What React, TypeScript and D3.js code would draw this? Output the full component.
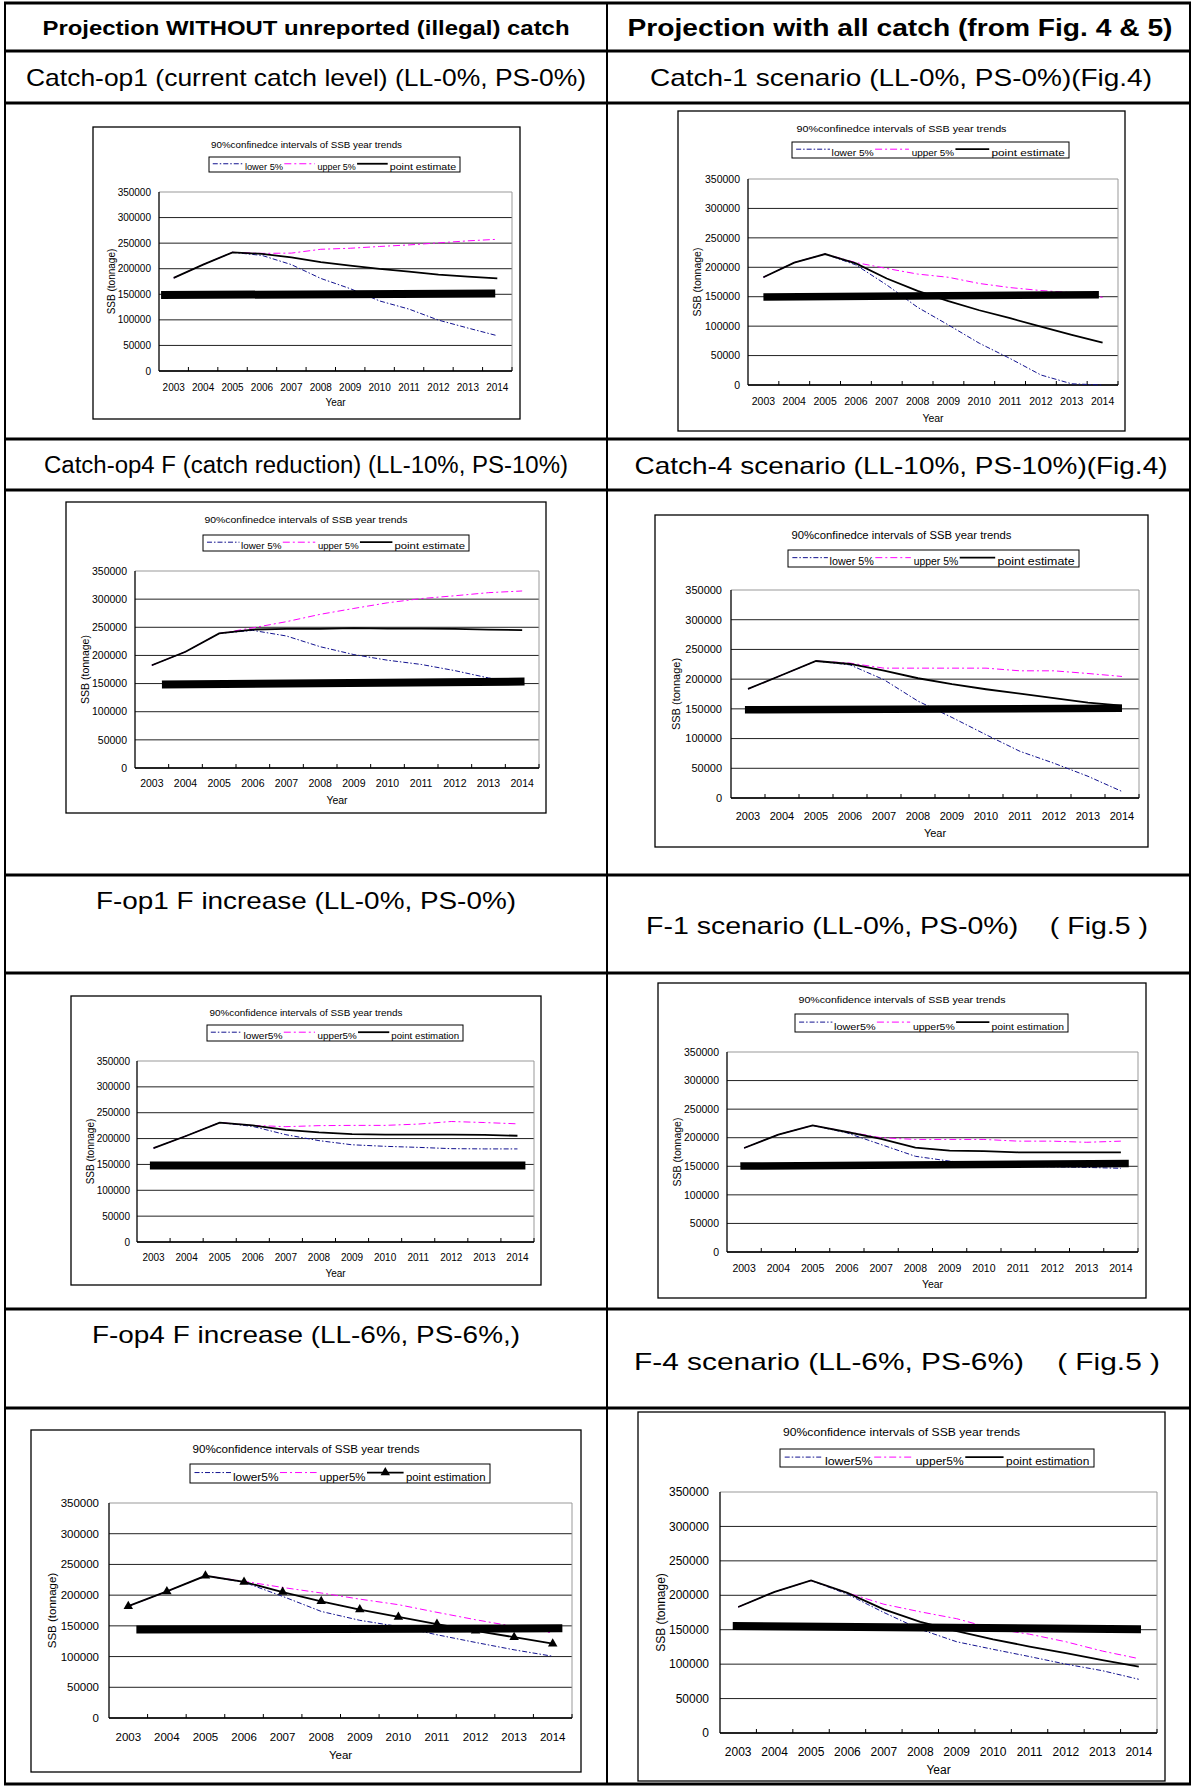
import React from "react";
import * as d3 from "d3";

const years = [2003, 2004, 2005, 2006, 2007, 2008, 2009, 2010, 2011, 2012, 2013, 2014];
const yTicks = [0, 50000, 100000, 150000, 200000, 250000, 300000, 350000];

const headerLeft = "Projection WITHOUT unreported (illegal) catch";
const headerRight = "Projection with all catch (from Fig. 4 & 5)";
const rowTitlesLeft = [
  "Catch-op1 (current catch level) (LL-0%, PS-0%)",
  "Catch-op4 F (catch reduction) (LL-10%, PS-10%)",
  "F-op1 F increase (LL-0%, PS-0%)",
  "F-op4 F increase (LL-6%, PS-6%,)",
];
const rowTitlesRight = [
  "Catch-1 scenario (LL-0%, PS-0%)(Fig.4)",
  "Catch-4 scenario (LL-10%, PS-10%)(Fig.4)",
  "F-1 scenario (LL-0%, PS-0%)    ( Fig.5 )",
  "F-4 scenario (LL-6%, PS-6%)    ( Fig.5 )",
];

const titleA = "90%confinedce intervals of SSB year trends";
const titleB = "90%confidence intervals of SSB year trends";
const legendA = ["lower 5%", "upper 5%", "point estimate"];
const legendB = ["lower5%", "upper5%", "point estimation"];

// Catch-op1
const c1Lower = [182000, 208000, 232000, 226000, 208000, 181000, 161000, 137000, 121000, 99500, 84000, 69000];
const c1Upper = [182000, 208000, 232000, 230000, 230500, 238000, 240000, 243500, 246500, 250500, 254500, 257500];
const c1Point = [182000, 208000, 232000, 229000, 222000, 213000, 206000, 199500, 194500, 188500, 184500, 181000];
const c1Ref = [148500, 151500];
// Catch-1
const c2Lower = [183000, 208000, 222500, 204000, 170000, 132000, 102000, 71000, 45000, 17000, 2000, 0];
const c2Upper = [183000, 208000, 222500, 208000, 198000, 188500, 183000, 172500, 165500, 160500, 157000, 149000];
const c2Point = [183000, 208000, 222500, 206500, 181000, 160000, 142500, 127000, 113500, 99000, 85000, 72000];
const c2Ref = [149500, 153500];
// Catch-op4
const c3Lower = [182500, 206500, 239000, 244500, 234500, 215500, 201500, 191500, 184000, 173000, 160000, 152000];
const c3Upper = [182500, 206500, 239000, 249000, 260000, 273000, 283500, 293500, 301000, 306000, 311500, 314500];
const c3Point = [182500, 206500, 239000, 246000, 247000, 247000, 248500, 247500, 247500, 247000, 246000, 245000];
const c3Ref = [148300, 153600];
// Catch-4
const c4Lower = [183500, 207000, 230500, 224000, 199000, 163000, 135500, 106500, 78500, 58500, 36500, 11000];
const c4Upper = [183500, 207000, 230500, 227000, 218500, 218500, 218500, 218500, 214000, 214000, 209500, 204500];
const c4Point = [183500, 207000, 230500, 225500, 214500, 201500, 191500, 183000, 175500, 168000, 160500, 155500];
const c4Ref = [148500, 151000];
// F-op1
const c5Lower = [181500, 205500, 231000, 223500, 207500, 196000, 188000, 185000, 183000, 180500, 180000, 180000];
const c5Upper = [181500, 205500, 231000, 225500, 223000, 225000, 225500, 225500, 228000, 233000, 231000, 228500];
const c5Point = [181500, 205500, 231000, 225500, 217000, 212000, 208500, 207500, 207500, 207500, 207000, 205500];
const c5Ref = [148000, 148000];
// F-1
const c6Lower = [182000, 205500, 221500, 208500, 188000, 167500, 159000, 153000, 150000, 149000, 148000, 146500];
const c6Upper = [182000, 205500, 221500, 210500, 200000, 197000, 197000, 197000, 194000, 194000, 192000, 194000];
const c6Point = [182000, 205500, 221500, 210000, 198000, 182500, 177500, 176500, 174500, 174500, 174500, 174500];
const c6Ref = [150300, 155000];
// F-op4
const c7Lower = [182000, 206000, 231500, 221000, 198000, 173500, 159000, 149000, 135500, 123000, 111000, 100500];
const c7Upper = [182000, 206000, 231500, 222500, 212500, 203500, 193500, 184500, 172000, 160000, 149000, 138500];
const c7Point = [182000, 206000, 231500, 221500, 205000, 190000, 176500, 164500, 153000, 142000, 131500, 121000];
const c7Ref = [144000, 146000];
// F-4
const c8Lower = [183000, 205000, 221500, 201500, 175000, 150500, 132500, 121500, 111000, 100000, 90500, 78000];
const c8Upper = [183000, 205000, 221500, 203500, 187000, 176000, 166000, 151500, 143500, 132500, 119000, 108000];
const c8Point = [183000, 205000, 221500, 203500, 179500, 161500, 148000, 136000, 125500, 116000, 106000, 96500];
const c8Ref = [155500, 150500];

const FONT = "'Liberation Sans', Arial, sans-serif";

type Layout = {
  frame: number[]; plot: number[]; titleY: number; legend: number[];
  yLabX: number; xLabY: number; yearY: number; ssbX: number; fs: number; titleW: number;
  barFrom: number; barTo: number; barW: number; markers?: boolean;
};

const layouts: Layout[] = [
  { frame: [93, 127, 520, 419], plot: [159, 192, 512, 371], titleY: 145, legend: [209, 157, 460, 172], yLabX: 151, xLabY: 387, yearY: 402, ssbX: 111, fs: 10, titleW: 191, barFrom: 2002.57, barTo: 2013.93, barW: 8 },
  { frame: [678, 111, 1125, 431], plot: [748, 179, 1118, 385], titleY: 129, legend: [792, 142, 1069, 158], yLabX: 740, xLabY: 401, yearY: 418, ssbX: 697, fs: 10.5, titleW: 210, barFrom: 2003.0, barTo: 2013.88, barW: 7.5 },
  { frame: [66, 502, 546, 813], plot: [135, 571, 539, 768], titleY: 520, legend: [203, 535, 469, 551], yLabX: 127, xLabY: 783, yearY: 800, ssbX: 85, fs: 10.5, titleW: 203, barFrom: 2003.3, barTo: 2014.07, barW: 8 },
  { frame: [655, 515, 1148, 847], plot: [731, 590, 1139, 798], titleY: 535, legend: [788, 550, 1079, 567], yLabX: 722, xLabY: 816, yearY: 833, ssbX: 676, fs: 11, titleW: 220, barFrom: 2002.91, barTo: 2014.0, barW: 7.5 },
  { frame: [71, 996, 541, 1285], plot: [137, 1061, 534, 1242], titleY: 1013, legend: [207, 1025, 463, 1041], yLabX: 130, xLabY: 1257, yearY: 1273, ssbX: 90, fs: 10, titleW: 193, barFrom: 2002.89, barTo: 2014.24, barW: 8 },
  { frame: [658, 983, 1146, 1298], plot: [727, 1052, 1138, 1252], titleY: 1000, legend: [795, 1014, 1068, 1032], yLabX: 719, xLabY: 1268, yearY: 1284, ssbX: 677, fs: 10.5, titleW: 207, barFrom: 2002.89, barTo: 2014.23, barW: 7.5 },
  { frame: [31, 1430, 581, 1772], plot: [109, 1503, 572, 1718], titleY: 1449, legend: [190, 1464, 490, 1483], yLabX: 99, xLabY: 1737, yearY: 1755, ssbX: 52, fs: 11.5, titleW: 227, barFrom: 2003.21, barTo: 2014.25, barW: 8, markers: true },
  { frame: [638, 1412, 1165, 1781], plot: [720, 1492, 1157, 1733], titleY: 1432, legend: [780, 1449, 1094, 1467], yLabX: 709, xLabY: 1752, yearY: 1770, ssbX: 661, fs: 12, titleW: 237, barFrom: 2002.85, barTo: 2014.06, barW: 8 },
];

const panels = [
  { lower: c1Lower, upper: c1Upper, point: c1Point, ref: c1Ref, title: titleA, legend: legendA },
  { lower: c2Lower, upper: c2Upper, point: c2Point, ref: c2Ref, title: titleA, legend: legendA },
  { lower: c3Lower, upper: c3Upper, point: c3Point, ref: c3Ref, title: titleA, legend: legendA },
  { lower: c4Lower, upper: c4Upper, point: c4Point, ref: c4Ref, title: titleA, legend: legendA },
  { lower: c5Lower, upper: c5Upper, point: c5Point, ref: c5Ref, title: titleB, legend: legendB },
  { lower: c6Lower, upper: c6Upper, point: c6Point, ref: c6Ref, title: titleB, legend: legendB },
  { lower: c7Lower, upper: c7Upper, point: c7Point, ref: c7Ref, title: titleB, legend: legendB },
  { lower: c8Lower, upper: c8Upper, point: c8Point, ref: c8Ref, title: titleB, legend: legendB },
];

const BLUE = "#12128f";
const MAGENTA = "#ff00ff";
const LOWER_DASH = "5,2,1.5,2";
const UPPER_DASH = "7,3,2,3";

function Chart({ L, P }: { L: Layout; P: any }) {
  const [fx0, fy0, fx1, fy1] = L.frame;
  const [px0, py0, px1, py1] = L.plot;
  const xb = d3.scaleBand<number>().domain(years).range([px0, px1]);
  const bw = xb.bandwidth();
  const xs = d3.scaleLinear().domain([years[0], years[years.length - 1]])
    .range([(xb(years[0]) as number) + bw / 2, (xb(years[years.length - 1]) as number) + bw / 2]);
  const ys = d3.scaleLinear().domain([0, 350000]).range([py1, py0]);
  const line = d3.line<number>().x((_, i) => xs(years[i])).y((v) => ys(v));
  const fs = L.fs;
  const [lx0, ly0, lx1, ly1] = L.legend;
  const lw = lx1 - lx0;
  const lh = ly1 - ly0;
  const sampleStarts = [0.015, 0.3, 0.59];
  const sampleLen = 0.122;
  const textStarts = [0.143, 0.432, 0.72];
  const textEnds = [0.295, 0.585, 0.985];
  const styles = [
    { stroke: BLUE, dash: LOWER_DASH, w: 1 },
    { stroke: MAGENTA, dash: UPPER_DASH, w: 1 },
    { stroke: "#000", dash: undefined, w: 1.8 },
  ];
  const tri = d3.symbol().type(d3.symbolTriangle).size(fs * 3.4)();
  const sampleY = ly0 + lh * 0.45;
  return (
    <g fontFamily={FONT}>
      <rect x={fx0} y={fy0} width={fx1 - fx0} height={fy1 - fy0} fill="#fff" stroke="#000" strokeWidth={1.3} />
      <text x={(fx0 + fx1) / 2} y={L.titleY} dy="0.35em" textAnchor="middle" fontSize={fs * 0.95}
        textLength={L.titleW} lengthAdjust="spacingAndGlyphs">{P.title}</text>
      <rect x={lx0} y={ly0} width={lw} height={lh} fill="#fff" stroke="#000" strokeWidth={1} />
      {styles.map((s, i) => (
        <g key={i}>
          <line x1={lx0 + lw * sampleStarts[i]} x2={lx0 + lw * (sampleStarts[i] + sampleLen)} y1={sampleY} y2={sampleY}
            stroke={s.stroke} strokeWidth={s.w} strokeDasharray={s.dash} />
          {i === 2 && L.markers ? (
            <path d={tri as string} transform={`translate(${lx0 + lw * (sampleStarts[i] + sampleLen / 2)},${sampleY})`} fill="#000" />
          ) : null}
          <text x={lx0 + lw * textStarts[i]} y={ly1 - 2} fontSize={fs * 0.95}
            textLength={lw * (textEnds[i] - textStarts[i])} lengthAdjust="spacingAndGlyphs">{P.legend[i]}</text>
        </g>
      ))}
      {yTicks.map((t) => (
        <line key={t} x1={px0} x2={px1} y1={ys(t)} y2={ys(t)}
          stroke={t === 350000 ? "#999" : "#222"} strokeWidth={1} />
      ))}
      <line x1={px1} x2={px1} y1={py0} y2={py1} stroke="#999" strokeWidth={1} />
      <line x1={px0} x2={px0} y1={py0} y2={py1} stroke="#000" strokeWidth={1.3} />
      <line x1={px0} x2={px1} y1={py1} y2={py1} stroke="#000" strokeWidth={1.3} />
      {d3.range(1, years.length + 1).map((i) => {
        const xx = px0 + i * bw;
        return <line key={i} x1={xx} x2={xx} y1={py1} y2={py1 - 4} stroke="#000" strokeWidth={1} />;
      })}
      {yTicks.map((t) => (
        <text key={t} x={L.yLabX} y={ys(t)} dy="0.35em" textAnchor="end" fontSize={fs}>{t}</text>
      ))}
      {years.map((yr) => (
        <text key={yr} x={xs(yr)} y={L.xLabY} dy="0.35em" textAnchor="middle" fontSize={fs}>{yr}</text>
      ))}
      <text x={(px0 + px1) / 2} y={L.yearY} dy="0.35em" textAnchor="middle" fontSize={fs}>Year</text>
      <text transform={`translate(${L.ssbX},${(py0 + py1) / 2}) rotate(-90)`} dy="0.35em" textAnchor="middle" fontSize={fs}>SSB (tonnage)</text>
      <path d={line(P.lower) as string} fill="none" stroke={BLUE} strokeWidth={1} strokeDasharray={LOWER_DASH} />
      <path d={line(P.upper) as string} fill="none" stroke={MAGENTA} strokeWidth={1} strokeDasharray={UPPER_DASH} />
      <path d={line(P.point) as string} fill="none" stroke="#000" strokeWidth={1.8} />
      {L.markers
        ? P.point.map((v: number, i: number) => (
            <path key={i} d={tri as string} transform={`translate(${xs(years[i])},${ys(v)})`} fill="#000" />
          ))
        : null}
      <line x1={xs(L.barFrom)} x2={xs(L.barTo)} y1={ys(P.ref[0])} y2={ys(P.ref[1])}
        stroke="#000" strokeWidth={L.barW} strokeLinecap="butt" />
    </g>
  );
}

const rowLines = [3, 51, 103, 439, 490, 875, 973, 1309, 1408, 1784];
const colLines = [5, 607, 1190];

type TL = { text: string; cx: number; cy: number; w: number; fs: number; bold?: boolean };
const textLayout: TL[] = [
  { text: headerLeft, cx: 306, cy: 27, w: 527, fs: 21, bold: true },
  { text: headerRight, cx: 900, cy: 27, w: 545, fs: 24, bold: true },
  { text: rowTitlesLeft[0], cx: 306, cy: 77, w: 560, fs: 24 },
  { text: rowTitlesRight[0], cx: 901, cy: 77, w: 502, fs: 24 },
  { text: rowTitlesLeft[1], cx: 306, cy: 465, w: 524, fs: 23 },
  { text: rowTitlesRight[1], cx: 901, cy: 465, w: 533, fs: 24 },
  { text: rowTitlesLeft[2], cx: 306, cy: 900, w: 420, fs: 24 },
  { text: rowTitlesRight[2], cx: 897, cy: 925, w: 502, fs: 24 },
  { text: rowTitlesLeft[3], cx: 306, cy: 1334, w: 428, fs: 24 },
  { text: rowTitlesRight[3], cx: 897, cy: 1361, w: 526, fs: 24 },
];

export default function App() {
  return (
    <div style={{ position: "absolute", left: 0, top: 0 }}>
      <svg width={1195} height={1786} viewBox="0 0 1195 1786" style={{ display: "block", background: "#fff" }}>
        <rect x={0} y={0} width={1195} height={1786} fill="#fff" />
        {layouts.map((L, i) => (
          <Chart key={i} L={L} P={panels[i]} />
        ))}
        {rowLines.map((y) => (
          <line key={y} x1={colLines[0] - 1} x2={colLines[2] + 1} y1={y} y2={y} stroke="#000" strokeWidth={3} />
        ))}
        {colLines.map((x) => (
          <line key={x} x1={x} x2={x} y1={rowLines[0]} y2={rowLines[rowLines.length - 1]} stroke="#000" strokeWidth={2} />
        ))}
        {textLayout.map((t, i) => (
          <text key={i} x={t.cx} y={t.cy} dy="0.36em" textAnchor="middle" fontFamily={FONT}
            fontSize={t.fs} fontWeight={t.bold ? "bold" : "normal"} textLength={t.w}
            lengthAdjust="spacingAndGlyphs" style={{ whiteSpace: "pre" }}>{t.text}</text>
        ))}
      </svg>
    </div>
  );
}
